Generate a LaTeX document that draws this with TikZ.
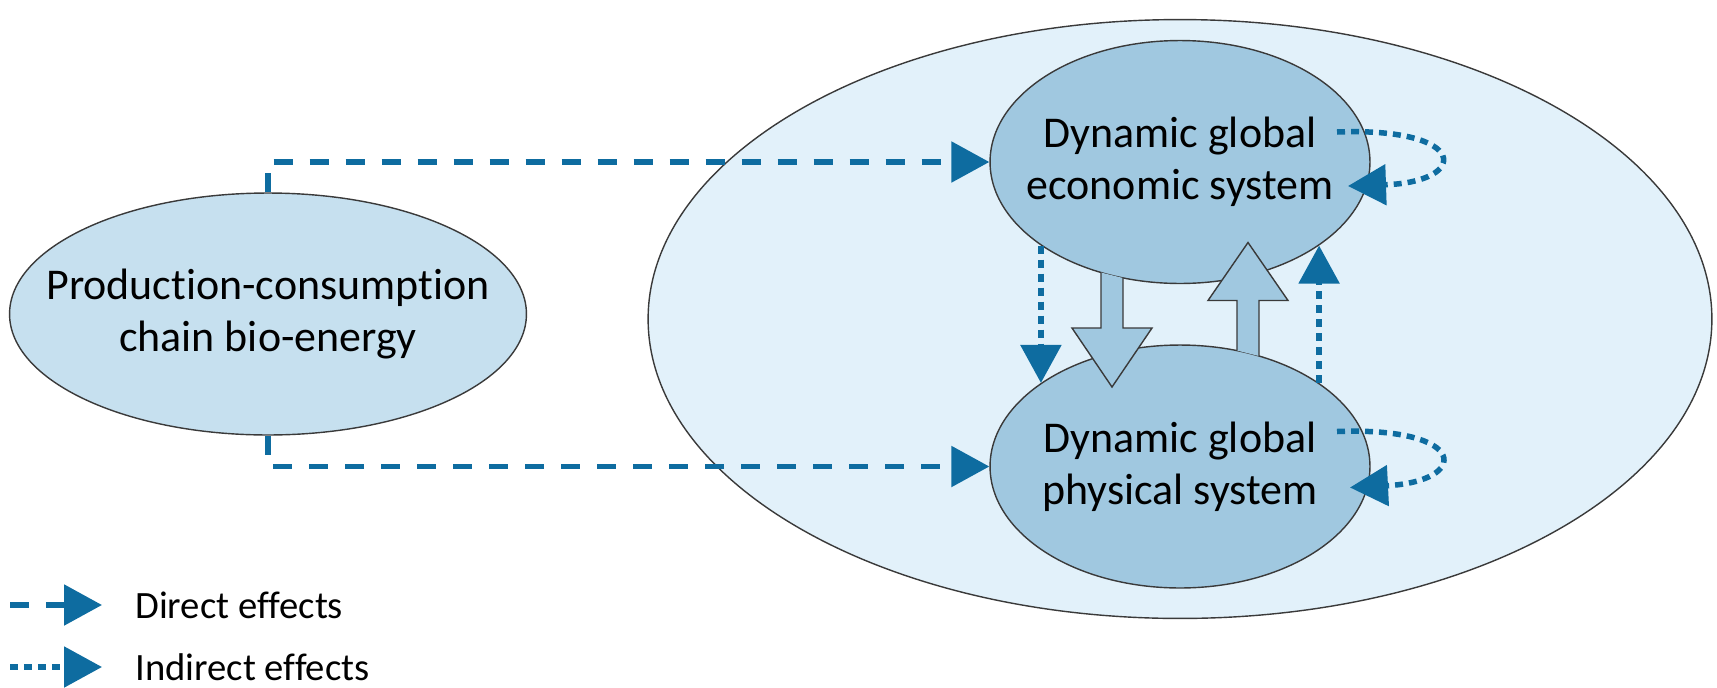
\documentclass[tikz,border=0pt]{standalone}
\usepackage{fontspec}
\setmainfont{Carlito}[Ligatures=NoCommon]
\usepackage{xcolor}
\definecolor{diaArrow}{HTML}{0E6CA0}
\definecolor{diaOuter}{HTML}{E2F1FA}
\definecolor{diaSource}{HTML}{C6E0EF}
\definecolor{diaSystem}{HTML}{A0C8E0}
\definecolor{diaBorder}{HTML}{3A3A3A}
\usepackage{tikz}
\usetikzlibrary{shapes.geometric,arrows.meta,calc}
\tikzset{
    outer/.style={
        draw=diaBorder,
        fill=diaOuter,
        ellipse,
        inner sep=0pt,
        minimum width=21.28cm,
        minimum height=11.98cm,
        line width=0.8pt
    },
    source/.style={
        draw=diaBorder,
        fill=diaSource,
        ellipse,
        inner sep=0pt,
        minimum width=10.34cm,
        minimum height=4.84cm,
        line width=0.8pt
    },
    system/.style={
        draw=diaBorder,
        fill=diaSystem,
        ellipse,
        inner sep=0pt,
        minimum width=7.6cm,
        minimum height=4.86cm,
        line width=0.8pt
    },
    systext/.style={
        align=center,
        inner sep=0pt,
        font=\fontsize{25}{29.5}\selectfont
    },
    direct/.style={
        -{Triangle[length=0.76cm,width=0.8cm]},
        line width=0.11cm,
        color=diaArrow,
        dash pattern=on 0.38cm off 0.34cm
    },
    indirect/.style={
        -{Triangle[length=0.76cm,width=0.8cm]},
        line width=0.11cm,
        color=diaArrow,
        dash pattern=on 0.16cm off 0.12cm
    },
    blockarrow/.style={
        draw=diaBorder,
        fill=diaSystem,
        line width=0.8pt,
        line join=miter
    },
    legendtext/.style={
        anchor=west,
        inner sep=0pt,
        font=\fontsize{22}{26}\selectfont
    }
}
\begin{document}
\begin{tikzpicture}[x=0.02cm, y=-0.02cm]
    \useasboundingbox (0,0) rectangle (1717,687);
    \node[outer] (world) at (1180,319) {};
    \node[source] (prod) at (268,314) {};
    \node[system] (eco) at (1180,162) {};
    \node[system] (phys) at (1180,466.5) {};

    % two-way block arrows
    \filldraw[blockarrow] ($(eco)+(-79,110.5)$) -- ($(eco)+(-79,166)$) -- ($(eco)+(-108,166)$) -- ($(eco)+(-68,225)$) -- ($(eco)+(-28,166)$) -- ($(eco)+(-57,166)$) -- ($(eco)+(-57,116)$);
    \filldraw[blockarrow] ($(phys)+(57,-116)$) -- ($(phys)+(57,-166)$) -- ($(phys)+(28,-166)$) -- ($(phys)+(68,-224)$) -- ($(phys)+(108,-166)$) -- ($(phys)+(79,-166)$) -- ($(phys)+(79,-110.5)$);

    % direct effects
    \draw[direct] (prod.north) |- (eco.west);
    \draw[direct] (prod.south) |- (phys.west);

    % indirect effects
    \draw[indirect] (eco.211) -- (phys.149);
    \draw[indirect] (phys.31) -- (eco.329);
    \draw[indirect] ($(eco)+(157,-30)$) .. controls ($(eco)+(290,-35)$) and ($(eco)+(290,20)$) .. ($(eco)+(168,24)$);
    \draw[indirect] ($(phys)+(157,-35)$) .. controls ($(phys)+(290,-40)$) and ($(phys)+(290,15)$) .. ($(phys)+(170,21)$);

    \node[systext] (prodlabel) at (prod) {Production-consumption\\chain bio-energy};
    \node[systext] (ecolabel) at (eco) {Dynamic global\\economic system};
    \node[systext] (physlabel) at (phys) {Dynamic global\\physical system};

    % legend
    \coordinate (directfrom) at (10,605);
    \coordinate (directto) at (102,605);
    \coordinate (indirectfrom) at (10,667);
    \coordinate (indirectto) at (102,667);
    \draw[direct] (directfrom) -- (directto);
    \draw[indirect] (indirectfrom) -- (indirectto);
    \node[legendtext] (directlabel) at (135,605) {Direct effects};
    \node[legendtext] (indirectlabel) at (135,667) {Indirect effects};
\end{tikzpicture}
\end{document}
